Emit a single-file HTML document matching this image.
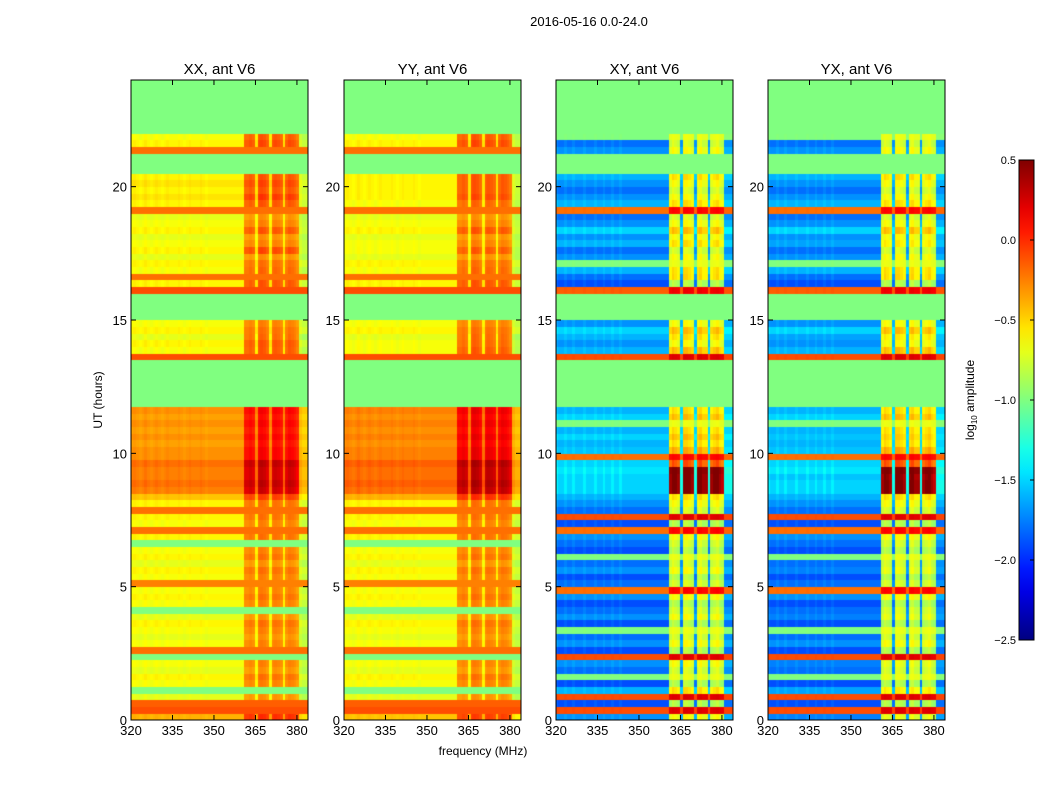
<!DOCTYPE html>
<html><head><meta charset="utf-8"><style>
body{margin:0;background:#fff;}
#wrap{position:relative;width:1050px;height:800px;}
canvas,svg{position:absolute;left:0;top:0;}
text{font-family:"Liberation Sans",sans-serif;fill:#000;}
</style></head><body>
<div id="wrap">
<canvas id="cv" width="1050" height="800"></canvas>
<svg id="sv" width="1050" height="800"></svg>
</div>
<script>
// ---- data (rows of 0.25 h from 0 to 24 h; channels of 1 MHz from 320 to 384) ----
const N=null;
const panelTitles=["XX, ant V6","YY, ant V6","XY, ant V6","YX, ant V6"];
const xTicks=[320,335,350,365,380];
const yTicks=[0,5,10,15,20];
const cbTicks=[0.5,0.0,-0.5,-1.0,-1.5,-2.0,-2.5];
const baseXX=[
-0.4,-0.1,-0.15,-0.7,-1.0,-0.65,-0.6,-0.7,-0.65,-1.0,-0.2,-0.65,-0.7,-0.65,-0.6,-0.7,
-1.0,-0.65,-0.6,-0.65,-0.25,-0.65,-0.6,-0.7,-0.6,-0.65,-1.0,-0.6,-0.2,-0.65,-0.6,-0.2,
-0.6,-0.45,-0.25,-0.2,-0.25,-0.25,-0.2,-0.3,-0.3,-0.35,-0.3,-0.35,-0.3,-0.35,-0.3,N,
N,N,N,N,N,N,-0.1,-0.65,-0.6,-0.7,-0.6,-0.65,N,N,N,N,
-0.1,-0.6,-0.2,-0.65,-0.6,-0.7,-0.6,-0.65,-0.7,-0.6,-0.65,-0.7,-0.2,-0.6,-0.55,-0.6,
-0.55,-0.6,N,N,N,-0.2,-0.6,-0.65,N,N,N,N,N,N,N,N];
const baseYY=[
-0.45,-0.1,-0.15,-0.7,-1.0,-0.65,-0.6,-0.7,-0.65,-1.0,-0.2,-0.65,-0.7,-0.65,-0.6,-0.7,
-1.0,-0.65,-0.6,-0.65,-0.25,-0.65,-0.6,-0.7,-0.6,-0.65,-1.0,-0.6,-0.2,-0.65,-0.6,-0.2,
-0.6,-0.4,-0.2,-0.15,-0.2,-0.2,-0.15,-0.25,-0.25,-0.3,-0.25,-0.3,-0.25,-0.3,-0.25,N,
N,N,N,N,N,N,-0.1,-0.65,-0.65,-0.7,-0.6,-0.65,N,N,N,N,
-0.1,-0.6,-0.2,-0.65,-0.6,-0.7,-0.65,-0.65,-0.7,-0.6,-0.65,-0.7,-0.2,-0.65,-0.6,-0.6,
-0.6,-0.6,N,N,N,-0.2,-0.6,-0.65,N,N,N,N,N,N,N,N];
const baseXY=[
-1.7,-0.1,-1.9,-0.1,-1.6,-1.9,-1.0,-1.8,-1.7,-0.1,-1.9,-1.7,-1.8,-1.0,-1.9,-1.7,
-1.8,-1.9,-1.7,-0.2,-1.8,-1.9,-1.7,-1.8,-1.0,-1.9,-1.8,-1.7,-0.2,-1.9,-0.1,-1.8,
-1.7,-1.6,-1.5,-1.5,-1.5,-1.45,-1.5,-0.2,-1.55,-1.6,-1.5,-1.6,-1.0,-1.5,-1.6,N,
N,N,N,N,N,N,-0.1,-1.6,-1.7,-1.6,-1.5,-1.7,N,N,N,N,
-0.15,-1.9,-1.8,-1.6,-1.0,-1.7,-1.8,-1.6,-1.7,-1.5,-1.7,-1.8,-0.2,-1.6,-1.7,-1.8,
-1.7,-1.6,N,N,N,-1.7,-1.8,-1.0,N,N,N,N,N,N,N,N];
const baseYX=[
-1.75,-0.1,-1.9,-0.1,-1.65,-1.9,-1.0,-1.8,-1.75,-0.1,-1.9,-1.7,-1.8,-1.0,-1.9,-1.75,
-1.8,-1.9,-1.7,-0.2,-1.8,-1.9,-1.75,-1.8,-1.0,-1.9,-1.8,-1.7,-0.2,-1.9,-0.1,-1.8,
-1.7,-1.6,-1.5,-1.5,-1.55,-1.45,-1.5,-0.2,-1.55,-1.6,-1.55,-1.6,-1.0,-1.5,-1.6,N,
N,N,N,N,N,N,-0.1,-1.6,-1.7,-1.65,-1.5,-1.7,N,N,N,N,
-0.15,-1.9,-1.8,-1.6,-1.0,-1.7,-1.8,-1.65,-1.7,-1.5,-1.7,-1.8,-0.2,-1.6,-1.7,-1.8,
-1.7,-1.6,N,N,N,-1.7,-1.8,-1.0,N,N,N,N,N,N,N,N];
const gainPar=[
1,0,0,1,0,1,1,1,1,0,0,1,1,1,1,1,
0,1,1,1,0,1,1,1,1,1,0,1,0,1,1,0,
1,1,1.3,1.3,1.3,1.3,1.3,1.1,1.1,1.1,1.1,1.1,1.1,1.1,1.1,1,
1,1,1,1,1,1,0,1.3,1.2,1.3,1,1,1,1,1,1,
0,1.2,0,1.2,1,1,1.3,1,1,1.2,1,1,0,1.2,1.3,1.2,
1.2,1.2,1,1,1,0,1.3,1.3,1,1,1,1,1,1,1,1];
const gainCross=[
1,0.3,1,0.3,1,1,0.3,1,1,0.3,1,1,1,0.3,1,1,
1,1,1,0.3,1,1,1,1,0.3,1,1,1,0.3,1,0.3,1,
1,1,1.9,1.9,1.9,1.9,1.3,0.3,1.1,1,1,1,0.3,1,1,1,
1,1,1,1,1,1,0.3,1.1,1,1,1,1,1,1,1,1,
0.3,1,1.2,1,0.3,1,1,1,1,1,1,1,0.3,1,1,1,
1,1,1,1,1,1,1,0.3,1,1,1,1,1,1,1,1];
const chanPar=[
0,0.02,0,-0.02,0,0.03,0,-0.02,0,0.02,0,-0.02,0,0.02,0,0,
0,0.02,0,-0.02,0,0.02,0,0,0,0.02,0,-0.02,0,0,0,0,
0,0,0,0,0,0,0,0,0,0.35,0.35,0.38,0.35,0.05,0.4,0.42,
0.4,0.35,0.05,0.38,0.4,0.38,0.35,0.05,0.35,0.4,0.38,0.35,0.3,-0.1,-0.15,-0.15];
const chanCross=[
0.05,0,0,0.05,0,0,0.05,0,0,0,0.05,0,0,0,0.05,0,
0,0.05,0,0,0.05,0,0,0.05,0,0,0,0,0,0,0,0,
0,0,0,0,0,0,0,0,0,1.0,1.1,1.05,1.0,0.1,1.1,1.1,
1.05,1.0,0.1,1.05,1.1,1.0,1.0,0.1,1.0,1.05,1.1,1.0,0.95,0.1,0.1,0.1];
const panelBase=[baseXX,baseYY,baseXY,baseYX];
const panelGain=[gainPar,gainPar,gainCross,gainCross];
const panelChan=[chanPar,chanPar,chanCross,chanCross];

// ---- layout ----
const lefts=[131,344,556,768], TOP=80, W=177, H=640;
const FMIN=320,FMAX=384,TMIN=0,TMAX=24,VMIN=-2.5,VMAX=0.5;
const xs=(p,f)=>lefts[p]+(f-FMIN)/(FMAX-FMIN)*W;
const ys=t=>TOP+H-(t-TMIN)/(TMAX-TMIN)*H;
function jet(v){
  let x=(v-VMIN)/(VMAX-VMIN); x=Math.max(0,Math.min(1,x));
  const c=a=>Math.round(255*Math.max(0,Math.min(1,a)));
  return `rgb(${c(1.5-Math.abs(4*x-3))},${c(1.5-Math.abs(4*x-2))},${c(1.5-Math.abs(4*x-1))})`;
}
const ctx=document.getElementById('cv').getContext('2d');
for(let p=0;p<4;p++){
  const base=panelBase[p],gain=panelGain[p],chan=panelChan[p];
  for(let r=0;r<base.length;r++){
    const t0=r*0.25,t1=t0+0.25;
    const y0=ys(t1),y1=ys(t0);
    for(let c=0;c<chan.length;c++){
      const v=base[r]===null?-1.0:base[r]+chan[c]*gain[r];
      ctx.fillStyle=jet(v);
      const x0=xs(p,FMIN+c),x1=xs(p,FMIN+c+1);
      ctx.fillRect(Math.floor(x0),Math.floor(y0),Math.ceil(x1)-Math.floor(x0),Math.ceil(y1)-Math.floor(y0));
    }
  }
}
// ---- svg axes ----
const S='http://www.w3.org/2000/svg', sv=document.getElementById('sv');
function el(tag,attrs,txt){const e=document.createElementNS(S,tag);for(const k in attrs)e.setAttribute(k,attrs[k]);if(txt!==undefined)e.textContent=txt;sv.appendChild(e);return e;}
let e;
e=el('text',{x:589,y:26,'text-anchor':'middle','font-size':13},'2016-05-16 0.0-24.0');


for(let p=0;p<4;p++){
  e=el('rect',{x:lefts[p],y:TOP,width:W,height:H,fill:'none',stroke:'#000','stroke-width':1});
  
  
  e=el('text',{x:lefts[p]+W/2,y:74,'text-anchor':'middle','font-size':15},panelTitles[p]);
  
  
  xTicks.forEach(f=>{
    const x=xs(p,f);
    el('line',{x1:x,x2:x,y1:TOP+H,y2:TOP+H-5,stroke:'#000'});
    el('line',{x1:x,x2:x,y1:TOP,y2:TOP+5,stroke:'#000'});
    e=el('text',{x:x,y:TOP+H+15,'text-anchor':'middle','font-size':13},String(f));
    
    
  });
  yTicks.forEach(t=>{
    const y=ys(t);
    el('line',{x1:lefts[p],x2:lefts[p]+5,y1:y,y2:y,stroke:'#000'});
    el('line',{x1:lefts[p]+W,x2:lefts[p]+W-5,y1:y,y2:y,stroke:'#000'});
    e=el('text',{x:lefts[p]-4,y:y+5,'text-anchor':'end','font-size':13},String(t));
    
    
  });
}
e=el('text',{x:483,y:755,'text-anchor':'middle','font-size':12},'frequency (MHz)');


e=el('text',{x:102,y:400,'text-anchor':'middle','font-size':12,transform:'rotate(-90 102 400)'},'UT (hours)');


// colorbar
const CBX=1019,CBY=160,CBW=15,CBH=480;
const defs=el('defs',{});
const g=document.createElementNS(S,'linearGradient');
g.setAttribute('id','jetg');g.setAttribute('x1','0');g.setAttribute('y1','1');g.setAttribute('x2','0');g.setAttribute('y2','0');
defs.appendChild(g);
for(let i=0;i<=20;i++){const s=document.createElementNS(S,'stop');s.setAttribute('offset',i/20);s.setAttribute('stop-color',jet(VMIN+(VMAX-VMIN)*i/20));g.appendChild(s);}
e=el('rect',{x:CBX,y:CBY,width:CBW,height:CBH,fill:'url(#jetg)',stroke:'#000'});


const cby=v=>CBY+CBH-(v-VMIN)/(VMAX-VMIN)*CBH;
cbTicks.forEach(v=>{
  const y=cby(v);
  el('line',{x1:CBX+CBW,x2:CBX+CBW-4,y1:y,y2:y,stroke:'#000'});
  e=el('text',{x:CBX-3,y:y+4,'text-anchor':'end','font-size':11},(v<0?'\u2212':'')+Math.abs(v).toFixed(1));
  
  
});
e=el('text',{x:974,y:400,'text-anchor':'middle','font-size':12,transform:'rotate(-90 974 400)'});
e.innerHTML='log<tspan font-size="8" dy="3">10</tspan><tspan dy="-3"> amplitude</tspan>';


</script>
</body></html>
